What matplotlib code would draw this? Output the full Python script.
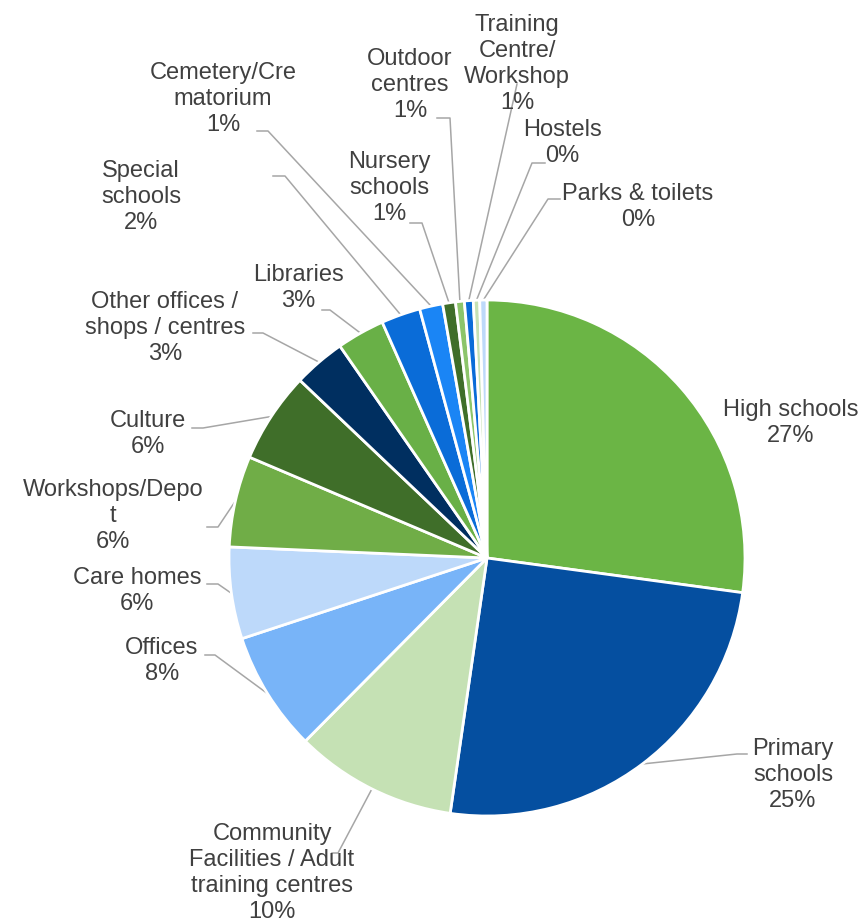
import numpy as np
import matplotlib.pyplot as plt

# floor-area share by building type (%), clockwise from 12 o'clock
categories = [
    "High schools", "Primary\nschools", "Community\nFacilities / Adult\ntraining centres",
    "Offices", "Care homes", "Workshops/Depo\nt", "Culture",
    "Other offices /\nshops / centres", "Libraries", "Special\nschools",
    "Cemetery/Cre\nmatorium", "Nursery\nschools", "Outdoor\ncentres",
    "Training\nCentre/\nWorkshop", "Hostels", "Parks & toilets",
]
shares = [27.13, 25.12, 10.15, 7.5, 5.74, 5.7, 5.7, 3.25, 3.0, 2.45,
          1.45, 0.8, 0.55, 0.55, 0.4, 0.45]

colors = ["#6BB545", "#054FA0", "#C5E1B4", "#78B4F8", "#BDD9FA", "#70AD47",
          "#3F6E29", "#002F60", "#69B047", "#0A6CD8", "#1A85F5", "#3F6E29",
          "#8CC56A", "#0A6CD8", "#C5E1B4", "#BDD9FA"]

# layout in pixels from the top-left corner
W, H = 863, 922
CX, CY, R = 487, 558, 258
label_pos = [(791, 423), (793, 775), (272, 873), (162, 661), (137, 591),
             (113, 516), (148, 434), (165, 328), (298, 288), (141, 197),
             (223, 99), (389, 188), (410, 85), (517, 64), (562, 143),
             (638, 207)]
# leader polyline: points from the label side towards the elbow (None = no leader)
leaders = [None, [(747, 754), (737, 754)], [(332, 853), (338, 853)],
           [(205, 655), (215, 655)], [(207, 584), (218, 584)],
           [(207, 527), (218, 527)], [(192, 428), (203, 428)],
           [(253, 333), (263, 333)], [(322, 310), (330, 310)],
           [(273, 176), (285, 176)], [(257, 131), (268, 131)],
           [(410, 223), (422, 223)], [(437, 118), (450, 118)],
           [(517, 84)], [(545, 163), (532, 163)], [(560, 199), (548, 199)]]

fig = plt.figure(figsize=(W / 100, H / 100), dpi=100)
ax = fig.add_axes([0, 0, 1, 1])

wedges, _ = ax.pie(shares, colors=colors, startangle=90, counterclock=False,
                   center=(CX, H - CY), radius=R,
                   wedgeprops=dict(edgecolor="white", linewidth=2))
ax.set_xlim(0, W)
ax.set_ylim(0, H)
ax.set_aspect("equal")
ax.axis("off")

total = sum(shares)
for w, name, v, (tx, ty), lead in zip(wedges, categories, shares, label_pos, leaders):
    pct = int(round(v / total * 100))
    ax.text(tx, H - ty, f"{name}\n{pct}%", ha="center", va="center",
            multialignment="center", fontsize=17, color="#404040",
            family="Liberation Sans", linespacing=1.25)
    if lead is None:
        continue
    mid = np.deg2rad((w.theta1 + w.theta2) / 2)
    rim = (CX + R * np.cos(mid), H - CY + R * np.sin(mid))
    xs = [p[0] for p in lead] + [rim[0]]
    ys = [H - p[1] for p in lead] + [rim[1]]
    ax.plot(xs, ys, color="#A6A6A6", lw=1.1, zorder=0.5)

fig.savefig("out.png", dpi=100)
